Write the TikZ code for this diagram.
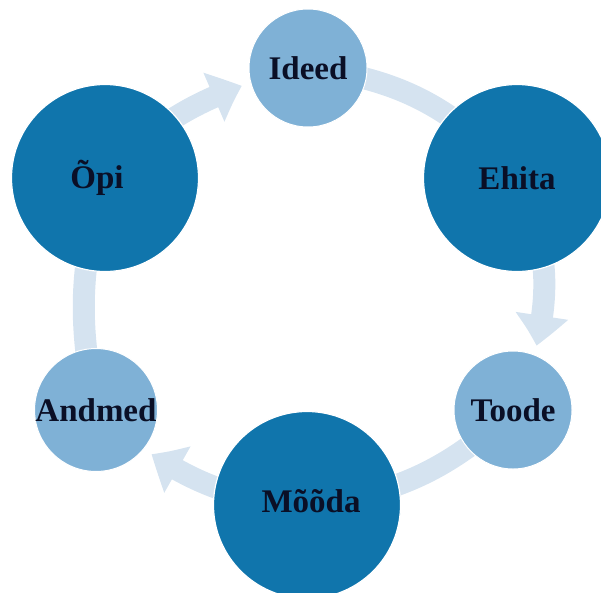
\documentclass[tikz,border=0pt]{standalone}
\usepackage{fontspec}
\setmainfont{Liberation Serif}
\usetikzlibrary{arrows.meta,bending,backgrounds}

\definecolor{ringcol}{RGB}{213,227,240}
\definecolor{darkcirc}{RGB}{16,117,172}
\definecolor{lightcirc}{RGB}{127,177,214}
\definecolor{labelcol}{RGB}{10,15,38}

\tikzset{
  steptext/.style={text=labelcol, inner sep=0pt,
    font=\fontsize{33}{36}\selectfont\bfseries},
  bigstep/.style={circle, fill=darkcirc, draw=white, line width=1.2pt,
    minimum size=187pt, inner sep=0pt, steptext},
  smallstep/.style={circle, fill=lightcirc, draw=white, line width=1pt,
    minimum size=118pt, inner sep=0pt, steptext},
  band/.style={draw=ringcol, line width=22pt},
  bandarrow/.style={band, shorten >=9pt,
    -{Triangle[width=50pt,length=32pt,bend]}},
}

\begin{document}
\begin{tikzpicture}[x=1pt,y=1pt]
  \useasboundingbox (0,-592) rectangle (601,0);
  \clip (0,-592) rectangle (601,0);

  % the six stages of the cycle
  \node[smallstep] (ideed)  at (308,-68)  {Ideed};
  \node[bigstep]   (ehita)  at (517,-178) {Ehita};
  \node[smallstep] (toode)  at (513,-410) {Toode};
  \node[bigstep, label={[steptext, xshift=4pt, yshift=4pt]center:Mõõda}]
                   (mooda)  at (307,-505) {};
  \node[smallstep] (andmed) at (96,-410)  {Andmed};
  \node[bigstep, label={[steptext, xshift=-8pt]center:Õpi}]
                   (opi)    at (105,-178) {};

  % the ring that links them, behind the circles
  \begin{scope}[on background layer]
    \draw[bandarrow] (opi.center)    to[bend left=14] (ideed);
    \draw[band]      (ideed.center)  to[bend left=21] (ehita.center);
    \draw[bandarrow] (ehita.center)  to[bend left=20] (toode);
    \draw[band]      (toode.center)  to[bend left=18] (mooda.center);
    \draw[bandarrow] (mooda.center)  to[bend left=15] (andmed);
    \draw[band]      (andmed.center) to[bend left=14] (opi.center);
  \end{scope}
\end{tikzpicture}
\end{document}
